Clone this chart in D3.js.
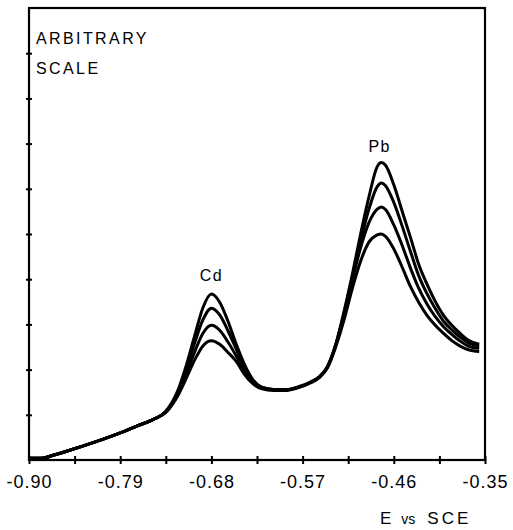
<!DOCTYPE html>
<html>
<head>
  <meta charset="utf-8">
  <title>Cd / Pb stripping peaks</title>
  <style>
    body { margin: 0; background: #fff; }
    svg { display: block; }
    text { font-family: "Liberation Sans", Arial, sans-serif; fill: #000; }
    .curve { fill: none; stroke: #000; stroke-width: 3px; stroke-linejoin: round; }
  </style>
</head>
<body>
  <script src="https://d3js.org/d3.v7.min.js"></script>
  <script>
    // potential (V vs SCE)
    const potential = [-0.90, -0.885, -0.87, -0.85, -0.82, -0.79, -0.77, -0.75, -0.735, -0.72,
      -0.71, -0.70, -0.69, -0.68, -0.67, -0.66, -0.65, -0.64, -0.63, -0.62,
      -0.605, -0.59, -0.575, -0.56, -0.55, -0.54, -0.53, -0.52, -0.51, -0.50,
      -0.49, -0.48, -0.475, -0.47, -0.46, -0.45, -0.44, -0.43, -0.42, -0.41,
      -0.40, -0.39, -0.38, -0.37, -0.357];

    // four scans, highest first (arbitrary units)
    const scan1 = [0.04, 0.04, 0.11, 0.22, 0.40, 0.60, 0.75, 0.90, 1.08, 1.56,
      2.11, 2.76, 3.38, 3.67, 3.49, 3.07, 2.56, 2.11, 1.78, 1.62,
      1.56, 1.56, 1.62, 1.73, 1.84, 2.07, 2.56, 3.29, 4.11, 5.0,
      5.82, 6.49, 6.58, 6.52, 6.09, 5.51, 4.93, 4.33, 3.89, 3.51,
      3.2, 2.98, 2.8, 2.65, 2.56];
    const scan2 = [0.04, 0.04, 0.11, 0.22, 0.40, 0.60, 0.75, 0.90, 1.07, 1.52,
      2.02, 2.60, 3.11, 3.36, 3.21, 2.86, 2.45, 2.04, 1.75, 1.61,
      1.56, 1.55, 1.61, 1.72, 1.83, 2.06, 2.55, 3.25, 4.05, 4.85,
      5.55, 6.05, 6.13, 6.07, 5.7, 5.18, 4.62, 4.08, 3.68, 3.35,
      3.07, 2.88, 2.72, 2.59, 2.52];
    const scan3 = [0.04, 0.04, 0.11, 0.22, 0.40, 0.60, 0.75, 0.90, 1.06, 1.48,
      1.92, 2.40, 2.81, 2.98, 2.87, 2.61, 2.30, 1.96, 1.72, 1.60,
      1.55, 1.55, 1.61, 1.72, 1.83, 2.05, 2.53, 3.2, 3.98, 4.7,
      5.25, 5.55, 5.6, 5.54, 5.2, 4.75, 4.25, 3.8, 3.45, 3.17,
      2.95, 2.78, 2.63, 2.52, 2.47];
    const scan4 = [0.04, 0.04, 0.11, 0.22, 0.40, 0.60, 0.75, 0.90, 1.05, 1.44,
      1.82, 2.22, 2.53, 2.64, 2.56, 2.38, 2.18, 1.89, 1.69, 1.58,
      1.54, 1.54, 1.6, 1.71, 1.82, 2.04, 2.51, 3.1, 3.8, 4.4,
      4.82, 4.98, 5.0, 4.95, 4.67, 4.27, 3.84, 3.49, 3.2, 2.98,
      2.8, 2.64, 2.52, 2.44, 2.4];

    const xTicks = [-0.90, -0.845, -0.79, -0.735, -0.68, -0.625, -0.57, -0.515, -0.46, -0.405, -0.35];
    const xTickLabels = ["-0.90", "", "-0.79", "", "-0.68", "", "-0.57", "", "-0.46", "", "-0.35"];
    const yTicks = d3.range(0, 11);

    const width = 513, height = 530;
    const svg = d3.select("body").append("svg").attr("width", width).attr("height", height);

    const x = d3.scaleLinear().domain([-0.90, -0.35]).range([29, 485]);
    const y = d3.scaleLinear().domain([0, 10]).range([460, 8]);

    // frame
    svg.append("rect")
       .attr("x", x(-0.90)).attr("y", y(10))
       .attr("width", x(-0.35) - x(-0.90)).attr("height", y(0) - y(10))
       .attr("fill", "none").attr("stroke", "#000").attr("stroke-width", 2.2);

    // bottom axis, ticks cross the line
    const xAxis = svg.append("g").attr("transform", `translate(0,${y(0)})`)
       .call(d3.axisBottom(x).tickValues(xTicks).tickSizeInner(4).tickSizeOuter(0)
               .tickFormat((d, i) => xTickLabels[i]));
    xAxis.select(".domain").remove();
    xAxis.selectAll(".tick line").attr("y1", -4).attr("stroke-width", 2);
    xAxis.selectAll(".tick text")
         .attr("y", 28).attr("dy", 0)
         .style("font-size", "18px").style("letter-spacing", "1px")
         .style("font-family", "'Liberation Sans', Arial, sans-serif");

    // left axis
    const yAxis = svg.append("g").attr("transform", `translate(${x(-0.90)},0)`)
       .call(d3.axisLeft(y).tickValues(yTicks.slice(1, 10)).tickSizeInner(3).tickSizeOuter(0).tickFormat(""));
    yAxis.select(".domain").remove();
    yAxis.selectAll(".tick line").attr("x1", 3).attr("stroke-width", 2);

    const line = d3.line()
       .x((d, i) => x(potential[i]))
       .y(d => y(d))
       .curve(d3.curveMonotoneX);

    [scan1, scan2, scan3, scan4].forEach(s => {
      svg.append("path").attr("class", "curve").attr("d", line(s));
    });

    // text
    svg.append("text").attr("x", 36).attr("y", 44)
       .style("font-size", "16px").style("letter-spacing", "2.4px").text("ARBITRARY");
    svg.append("text").attr("x", 36).attr("y", 74)
       .style("font-size", "16px").style("letter-spacing", "2.4px").text("SCALE");

    svg.append("text").attr("x", x(-0.68)).attr("y", 281).attr("text-anchor", "middle")
       .style("font-size", "16px").style("letter-spacing", "1.5px").text("Cd");
    svg.append("text").attr("x", x(-0.477)).attr("y", 152).attr("text-anchor", "middle")
       .style("font-size", "16px").style("letter-spacing", "1.5px").text("Pb");

    const ax = svg.append("text").attr("x", 380).attr("y", 524).style("font-size", "17px");
    ax.append("tspan").text("E");
    ax.append("tspan").attr("dx", 10).style("font-size", "14px").text("vs");
    ax.append("tspan").attr("dx", 12).style("letter-spacing", "3px").text("SCE");
  </script>
</body>
</html>
